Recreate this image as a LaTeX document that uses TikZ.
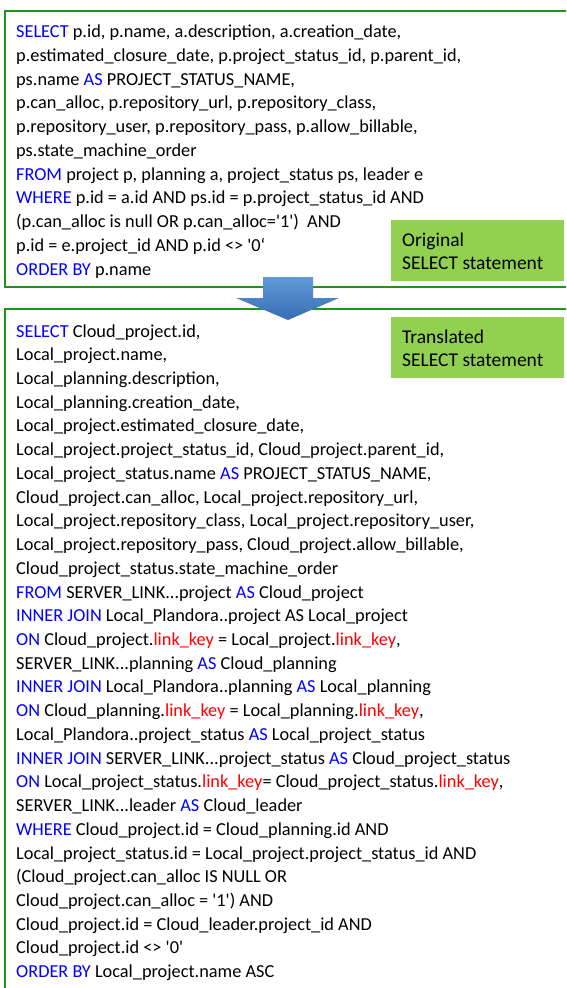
\documentclass[tikz,border=0pt]{standalone}
\usepackage{fontspec}
\setmainfont{Carlito}[Ligatures=TeXOff]
\usetikzlibrary{shapes.geometric}
\definecolor{kwblue}{RGB}{0,0,255}
\definecolor{lkred}{RGB}{255,0,0}
\definecolor{boxgreen}{RGB}{30,150,30}
\definecolor{labelgreen}{RGB}{146,208,80}
\definecolor{arrowtop}{RGB}{95,155,215}
\definecolor{arrowbot}{RGB}{55,110,180}
\newcommand\kw[1]{\textcolor{kwblue}{#1}}
\newcommand\lk[1]{\textcolor{lkred}{#1}}
\tikzset{
  sqlbox/.style={draw=boxgreen, line width=1.4pt, fill=white},
  sqlline/.style={anchor=base west, inner sep=0pt, font=\fontsize{18.3}{23.75}\selectfont},
  tagbox/.style={fill=labelgreen, draw=none},
  tagline/.style={anchor=base west, inner sep=0pt, font=\fontsize{19.5}{23.75}\selectfont},
  bigarrow/.style={top color=arrowtop, bottom color=arrowbot, draw=none}
}
\begin{document}
\begin{tikzpicture}[x=1pt,y=-1pt]
\useasboundingbox (0,0) rectangle (566,988);
\fill[white] (0,0) rectangle (566,988);
\begin{scope}
\clip (0,0) rectangle (566,988);
% boxes
\draw[sqlbox] (5,11) rectangle (572,287);
\draw[sqlbox] (5,309) rectangle (572,1000);
% original statement
\node[sqlline] (o1) at (16,37.5) {\kw{SELECT} p.id, p.name, a.description, a.creation\_date,};
\node[sqlline] (o2) at (16,61.25) {p.estimated\_closure\_date, p.project\_status\_id, p.parent\_id,};
\node[sqlline] (o3) at (16,85) {ps.name \kw{AS} PROJECT\_STATUS\_NAME,};
\node[sqlline] (o4) at (16,108.75) {p.can\_alloc, p.repository\_url, p.repository\_class,};
\node[sqlline] (o5) at (16,132.5) {p.repository\_user, p.repository\_pass, p.allow\_billable,};
\node[sqlline] (o6) at (16,156.25) {ps.state\_machine\_order};
\node[sqlline] (o7) at (16,180) {\kw{FROM} project p, planning a, project\_status ps, leader e};
\node[sqlline] (o8) at (16,203.75) {\kw{WHERE} p.id = a.id AND ps.id = p.project\_status\_id AND};
\node[sqlline] (o9) at (16,227.5) {(p.can\_alloc is null OR p.can\_alloc='1')\ \ AND};
\node[sqlline] (o10) at (16,251.25) {p.id = e.project\_id AND p.id <> '0‘};
\node[sqlline] (o11) at (16,275) {\kw{ORDER BY} p.name};
% translated statement
\node[sqlline] (t1) at (16,337) {\kw{SELECT} Cloud\_project.id,};
\node[sqlline] (t2) at (16,360.73) {Local\_project.name,};
\node[sqlline] (t3) at (16,384.46) {Local\_planning.description,};
\node[sqlline] (t4) at (16,408.19) {Local\_planning.creation\_date,};
\node[sqlline] (t5) at (16,431.92) {Local\_project.estimated\_closure\_date,};
\node[sqlline] (t6) at (16,455.65) {Local\_project.project\_status\_id, Cloud\_project.parent\_id,};
\node[sqlline] (t7) at (16,479.38) {Local\_project\_status.name \kw{AS} PROJECT\_STATUS\_NAME,};
\node[sqlline] (t8) at (16,503.11) {Cloud\_project.can\_alloc, Local\_project.repository\_url,};
\node[sqlline] (t9) at (16,526.84) {Local\_project.repository\_class, Local\_project.repository\_user,};
\node[sqlline] (t10) at (16,550.57) {Local\_project.repository\_pass, Cloud\_project.allow\_billable,};
\node[sqlline] (t11) at (16,574.3) {Cloud\_project\_status.state\_machine\_order};
\node[sqlline] (t12) at (16,598.03) {\kw{FROM} SERVER\_LINK...project \kw{AS} Cloud\_project};
\node[sqlline] (t13) at (16,621.76) {\kw{INNER JOIN} Local\_Plandora..project AS Local\_project};
\node[sqlline] (t14) at (16,645.49) {\kw{ON} Cloud\_project.\lk{link\_key} = Local\_project.\lk{link\_key},};
\node[sqlline] (t15) at (16,669.22) {SERVER\_LINK...planning \kw{AS} Cloud\_planning};
\node[sqlline] (t16) at (16,692.95) {\kw{INNER JOIN} Local\_Plandora..planning \kw{AS} Local\_planning};
\node[sqlline] (t17) at (16,716.68) {\kw{ON} Cloud\_planning.\lk{link\_key} = Local\_planning.\lk{link\_key},};
\node[sqlline] (t18) at (16,740.41) {Local\_Plandora..project\_status \kw{AS} Local\_project\_status};
\node[sqlline] (t19) at (16,764.14) {\kw{INNER JOIN} SERVER\_LINK...project\_status \kw{AS} Cloud\_project\_status};
\node[sqlline] (t20) at (16,787.87) {\kw{ON} Local\_project\_status.\lk{link\_key}= Cloud\_project\_status.\lk{link\_key},};
\node[sqlline] (t21) at (16,811.6) {SERVER\_LINK...leader \kw{AS} Cloud\_leader};
\node[sqlline] (t22) at (16,835.33) {\kw{WHERE} Cloud\_project.id = Cloud\_planning.id AND};
\node[sqlline] (t23) at (16,859.06) {Local\_project\_status.id = Local\_project.project\_status\_id AND};
\node[sqlline] (t24) at (16,882.79) {(Cloud\_project.can\_alloc IS NULL OR};
\node[sqlline] (t25) at (16,906.52) {Cloud\_project.can\_alloc = '1') AND};
\node[sqlline] (t26) at (16,930.25) {Cloud\_project.id = Cloud\_leader.project\_id AND};
\node[sqlline] (t27) at (16,953.98) {Cloud\_project.id <> '0'};
\node[sqlline] (t28) at (16,977.7) {\kw{ORDER BY} Local\_project.name ASC};
% labels
\fill[tagbox] (391,220) rectangle (564,281);
\node[tagline] (ga) at (402,246) {Original};
\node[tagline] (gb) at (402,269.3) {SELECT statement};
\fill[tagbox] (391,317) rectangle (564,378);
\node[tagline] (gc) at (402,343.5) {Translated};
\node[tagline] (gd) at (402,366.8) {SELECT statement};
% arrow
\path[bigarrow] (263,277) -- (313,277) -- (313,298) -- (339,298) -- (288,320) -- (236,298) -- (263,298) -- cycle;
\end{scope}
\end{tikzpicture}
\end{document}
